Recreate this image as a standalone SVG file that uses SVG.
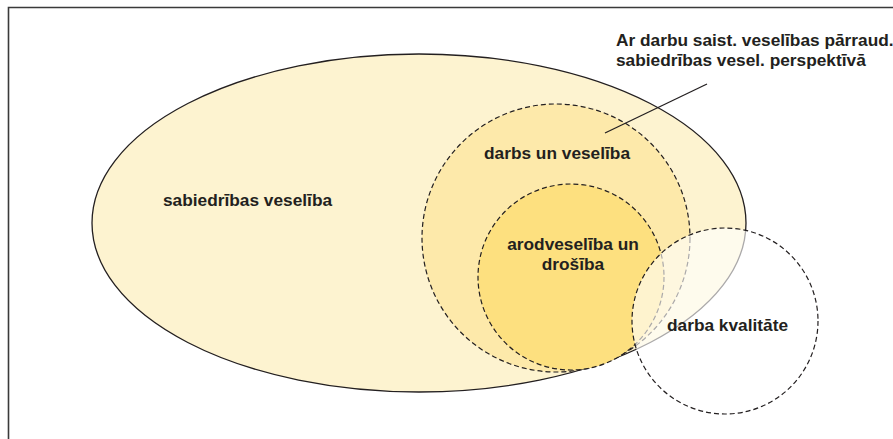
<svg xmlns="http://www.w3.org/2000/svg" width="893" height="439" viewBox="0 0 893 439">
<style>
.t{font-family:"Liberation Sans",Arial,sans-serif;font-weight:bold;font-size:17.3px;fill:#231f20}
.d{fill:none;stroke:#231f20;stroke-width:1.2;stroke-dasharray:5 3}
</style>
<rect width="893" height="439" fill="#ffffff"/>
<path d="M8.5,439 V7.5 H893" fill="none" stroke="#3a3a3a" stroke-width="1.6"/>
<g id="sabiedribas-veseliba">
<ellipse cx="419" cy="223" rx="327" ry="169" fill="#fdf3d0" stroke="#231f20" stroke-width="1.3"/>
</g>
<g id="darbs-un-veseliba">
<circle cx="556" cy="238" r="134" class="d" style="fill:#fde9aa"/>
</g>
<g id="arodveseliba">
<circle cx="571" cy="277" r="93" class="d" style="fill:#fde07f"/>
</g>
<g id="darba-kvalitate">
<circle cx="725" cy="321" r="93" fill="#ffffff" fill-opacity="0.62"/>
<circle cx="725" cy="321" r="93" class="d"/>
</g>
<g id="connectors">
<line x1="707" y1="84" x2="605" y2="133" stroke="#231f20" stroke-width="1.3"/>
</g>
<g id="labels">
<text class="t" x="616" y="46">Ar darbu saist. veselības pārraud.</text>
<text class="t" x="616" y="66">sabiedrības vesel. perspektīvā</text>
<text class="t" x="163" y="206">sabiedrības veselība</text>
<text class="t" x="484" y="159">darbs un veselība</text>
<text class="t" x="573" y="250" text-anchor="middle">arodveselība un</text>
<text class="t" x="573" y="270" text-anchor="middle">drošība</text>
<text class="t" x="667" y="331">darba kvalitāte</text>
</g>
</svg>
